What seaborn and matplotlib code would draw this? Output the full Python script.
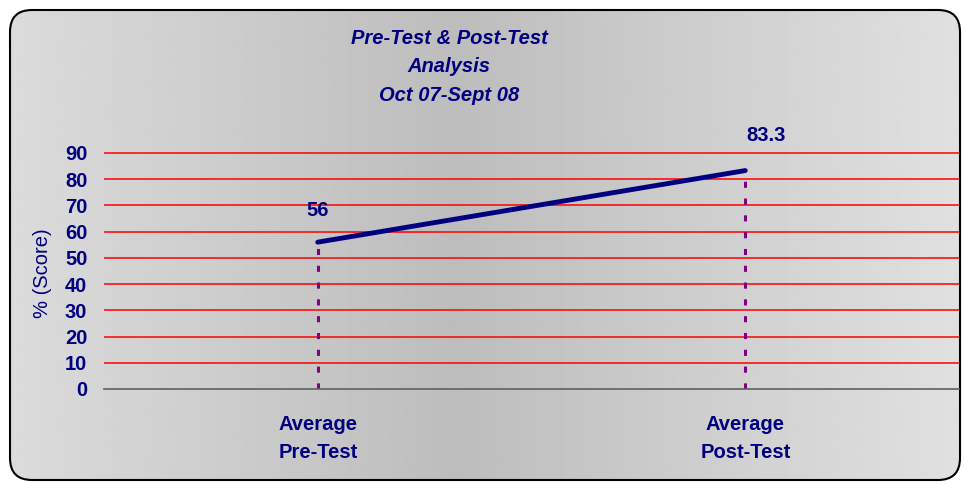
import numpy as np
import pandas as pd
import matplotlib
matplotlib.use("Agg")
import matplotlib.pyplot as plt
import seaborn as sns
from matplotlib.patches import FancyBboxPatch

categories = ["Average\nPre-Test", "Average\nPost-Test"]
scores = [56, 83.3]
score_labels = ["56", "83.3"]
yticks = [0, 10, 20, 30, 40, 50, 60, 70, 80, 90]
title = "Pre-Test & Post-Test\nAnalysis\nOct 07-Sept 08"

sns.set_theme(style="white")
plt.rcParams['font.family'] = ['Liberation Sans', 'DejaVu Sans']

navy = "#000080"
fig = plt.figure(figsize=(9.64, 4.84), dpi=100)
fig.patch.set_facecolor("white")

# background gradient clipped to rounded box
bg = fig.add_axes([0, 0, 1, 1], zorder=0)
bg.set_axis_off()
bg.set_xlim(0, 964)
bg.set_ylim(484, 0)
xs = np.linspace(0, 1, 400)
g = np.interp(xs, [0, 0.47, 1], [0.86, 0.74, 0.88])
img = np.tile(g, (10, 1))
im = bg.imshow(img, cmap="gray", vmin=0, vmax=1, extent=[8, 962, 482, 8], aspect="auto")
box = FancyBboxPatch((10, 10), 950, 470, boxstyle="round,pad=0,rounding_size=22",
                     facecolor="none", edgecolor="black", linewidth=1.5,
                     transform=bg.transData)
bg.add_patch(box)
im.set_clip_path(box)

ax = fig.add_axes([104/964, (484-389)/484, (959-104)/964, (389-125)/484], zorder=1)
ax.patch.set_alpha(0)
df = pd.DataFrame({"cat": categories, "score": scores})
xpos = np.arange(len(categories))

for yv in yticks[1:]:
    ax.axhline(yv, color="#ff0000", linewidth=1.1, zorder=1)

ax.vlines(xpos, 0, scores, colors="#800080", linestyles=(0, (2, 3.5)), linewidth=2.2, zorder=2)
sns.lineplot(x=xpos, y=df["score"], ax=ax, color=navy, linewidth=3.5, zorder=3)

ax.annotate(score_labels[0], (xpos[0], scores[0]), xytext=(0, 23), textcoords="offset points",
            ha="center", va="center", color=navy, fontsize=14.5, fontweight="bold")
ax.annotate(score_labels[1], (xpos[1], scores[1]), xytext=(15, 25), textcoords="offset points",
            ha="center", va="center", color=navy, fontsize=14.5, fontweight="bold")

ax.set_xlim(-0.5, 1.5)
ax.set_ylim(0, 90 * (389-125) / (389-153))
ax.set_yticks(yticks)
ax.set_yticklabels([str(v) for v in yticks], color=navy, fontsize=14.5, fontweight="bold")
ax.set_xticks([-0.5, 0.5, 1.5])
ax.set_xticklabels([])
ax.set_xticks(xpos, minor=True)
ax.set_xticklabels(categories, minor=True, color=navy, fontsize=14.5, fontweight="bold",
                   linespacing=1.6)
ax.tick_params(axis="x", which="minor", length=0, pad=19)
ax.tick_params(axis="x", which="major", length=5, direction="in", color="#606060", width=1)
ax.tick_params(axis="y", length=0, pad=12)
for s in ["top", "right", "left"]:
    ax.spines[s].set_visible(False)
ax.spines["bottom"].set_color("#606060")
ax.spines["bottom"].set_linewidth(1.2)
ax.set_xlabel("")
ax.set_ylabel("% (Score)", color=navy, fontsize=14.5)
ax.yaxis.set_label_coords(-52/855, (389-273)/(389-125))

fig.text(449/964, 1 - 67/484, title, ha="center", va="center", color=navy, fontsize=14.5,
         fontweight="bold", fontstyle="italic", linespacing=1.65)

fig.savefig("out.png", dpi=100)
